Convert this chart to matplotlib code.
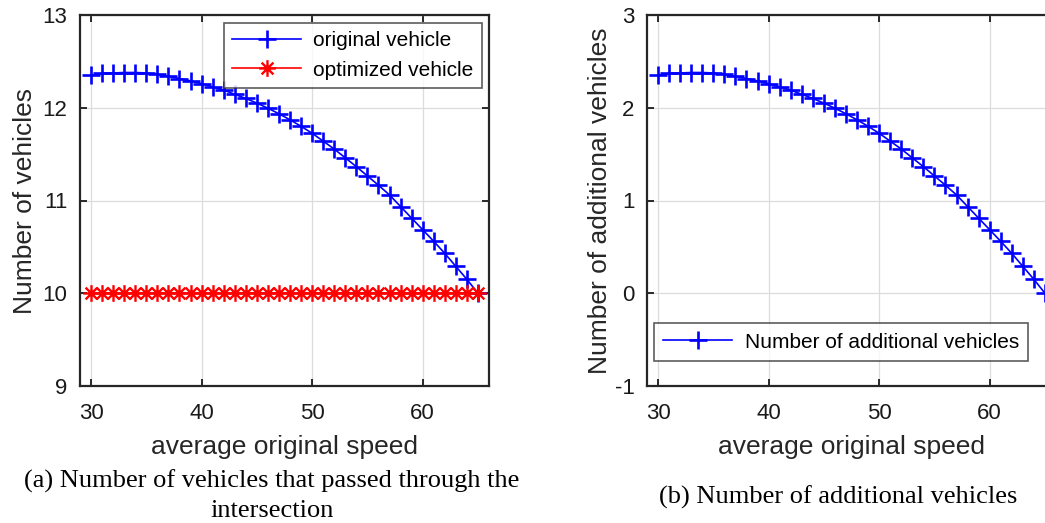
import matplotlib
matplotlib.use("Agg")
import matplotlib.pyplot as plt
from matplotlib.path import Path
import numpy as np

speed = list(range(30, 66))
additional = [2.35, 2.37, 2.375, 2.38, 2.38, 2.375, 2.36, 2.34, 2.315, 2.29,
              2.26, 2.225, 2.19, 2.145, 2.10, 2.05, 1.995, 1.935, 1.87, 1.80,
              1.725, 1.64, 1.555, 1.46, 1.365, 1.265, 1.165, 1.06, 0.935, 0.81,
              0.685, 0.56, 0.43, 0.29, 0.15, 0.0]
optimized = [10.0] * len(speed)
original = [10.0 + a for a in additional]

xticks = [30, 40, 50, 60]
left_yticks = [9, 10, 11, 12, 13]
right_yticks = [-1, 0, 1, 2, 3]

plt.rcParams['font.family'] = ['Liberation Sans', 'DejaVu Sans']
plt.rcParams['axes.unicode_minus'] = False
W, H = 1045, 523
fig = plt.figure(figsize=(W / 100, H / 100), dpi=100)

axcol = '#262626'

# MATLAB-style asterisk marker (plus + cross)
d = 0.7071
asterisk = Path([(-1, 0), (1, 0), (0, -1), (0, 1), (-d, -d), (d, d), (-d, d), (d, -d)],
                [Path.MOVETO, Path.LINETO] * 4)

def style(ax):
    ax.grid(True, color='#dcdcdc', linewidth=0.9)
    ax.set_axisbelow(True)
    for s in ax.spines.values():
        s.set_color(axcol)
        s.set_linewidth(1.6)
    ax.tick_params(direction='in', length=5, width=1.3, colors='#1a1a1a',
                   labelsize=16, top=True, right=True, pad=9)
    ax.tick_params(axis='x', pad=12)
    ax.set_xlim(29, 66)
    ax.set_xticks(xticks)

ax1 = fig.add_axes([80 / W, 1 - 386 / H, 409 / W, 371 / H])
style(ax1)
ax1.plot(speed, original, color='blue', marker='+', markersize=13,
         markeredgewidth=1.9, linewidth=1.2, label='original vehicle')
ax1.plot(speed, optimized, color='red', marker=asterisk, markersize=12,
         markeredgewidth=1.7, linewidth=1.2, label='optimized vehicle')
ax1.set_ylim(9, 13)
ax1.set_yticks(left_yticks)
ax1.set_xlabel('average original speed', fontsize=19, color=axcol, labelpad=8)
ax1.set_ylabel('Number of vehicles', fontsize=19, color=axcol, labelpad=4)
leg1 = ax1.legend(loc='upper right', fontsize=15, frameon=True, fancybox=False,
                  edgecolor='#333333', handlelength=3.3, borderaxespad=0,
                  bbox_to_anchor=((482 - 80) / 409, 1 - 8 / 371),
                  labelspacing=0.5, handletextpad=0.6, borderpad=0.4)
leg1.get_frame().set_linewidth(1.2)

ax2 = fig.add_axes([647 / W, 1 - 386 / H, 409 / W, 371 / H])
style(ax2)
ax2.plot(speed, additional, color='blue', marker='+', markersize=13,
         markeredgewidth=1.9, linewidth=1.2, label='Number of additional vehicles')
ax2.set_ylim(-1, 3)
ax2.set_yticks(right_yticks)
ax2.set_xlabel('average original speed', fontsize=19, color=axcol, labelpad=8)
ax2.set_ylabel('Number of additional vehicles', fontsize=19, color=axcol, labelpad=2)
leg2 = ax2.legend(loc='lower left', fontsize=15, frameon=True, fancybox=False,
                  edgecolor='#333333', handlelength=3.3, borderaxespad=0,
                  handletextpad=0.6, borderpad=0.45,
                  bbox_to_anchor=(7 / 409, 25 / 371))
leg2.get_frame().set_linewidth(1.2)

fig.text(272 / W, 1 - 481 / H,
         '(a) Number of vehicles that passed through the',
         ha='center', va='center', fontsize=19, family='Liberation Serif',
         color='black')
fig.text(272 / W, 1 - 511 / H, 'intersection',
         ha='center', va='center', fontsize=19, family='Liberation Serif',
         color='black')
fig.text(838 / W, 1 - 497 / H, '(b) Number of additional vehicles',
         ha='center', va='center', fontsize=19, family='Liberation Serif',
         color='black')

fig.savefig('out.png', dpi=100)
